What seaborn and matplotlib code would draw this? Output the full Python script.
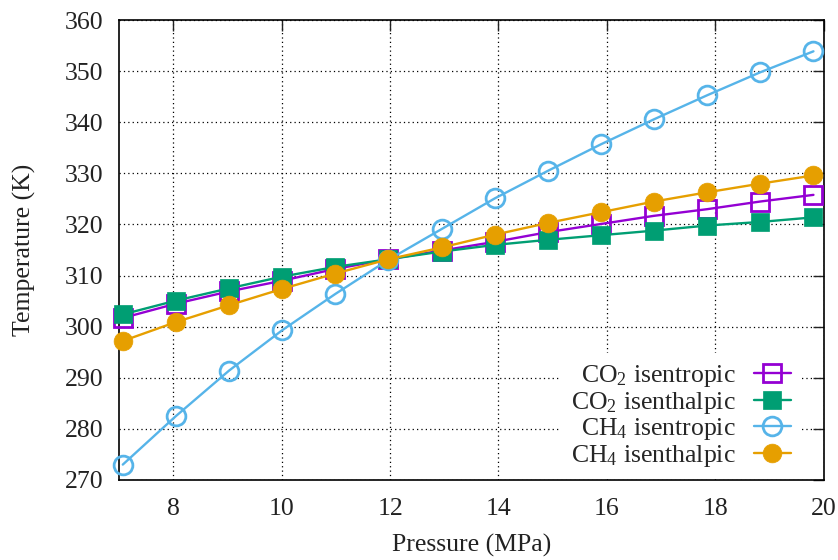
import numpy as np
import pandas as pd
import matplotlib
matplotlib.use("Agg")
import matplotlib.pyplot as plt
import seaborn as sns

# pressure (MPa) and temperatures (K)
pressure = [7.07, 8.05, 9.03, 10.01, 10.99, 11.97, 12.95, 13.93, 14.91, 15.89, 16.87, 17.85, 18.83, 19.81]
co2_isentropic = [301.7, 304.5, 306.9, 309.0, 311.3, 313.2, 314.9, 316.6, 318.5, 320.1, 321.7, 323.0, 324.5, 325.8]
co2_isenthalpic = [302.4, 305.1, 307.5, 309.8, 311.7, 313.2, 314.7, 316.0, 317.0, 317.9, 318.8, 319.8, 320.5, 321.4]
ch4_isentropic = [273.0, 282.5, 291.4, 299.3, 306.4, 313.1, 319.1, 325.1, 330.5, 335.7, 340.6, 345.3, 349.8, 353.9]
ch4_isenthalpic = [297.2, 300.9, 304.2, 307.4, 310.4, 313.2, 315.5, 318.0, 320.3, 322.4, 324.5, 326.3, 328.0, 329.6]

labels = [r"CO$_2$ isentropic", r"CO$_2$ isenthalpic", r"CH$_4$ isentropic", r"CH$_4$ isenthalpic"]
colors = ["#9400d3", "#009e73", "#56b4e9", "#e69f00"]
markers = ["s", "s", "o", "o"]
filled = [False, True, False, True]

sns.set_theme(style="white")
plt.rcParams['font.family'] = ['Liberation Serif', 'DejaVu Serif']
plt.rcParams['mathtext.fontset'] = 'custom'
plt.rcParams['mathtext.rm'] = 'Liberation Serif'
plt.rcParams['mathtext.it'] = 'Liberation Serif:italic'

FS = 18.5
TXT = "#222222"

fig = plt.figure(figsize=(8.38, 5.6), dpi=100)
ax = fig.add_axes([0.142, 0.143, 0.841, 0.821])

series = [co2_isentropic, co2_isenthalpic, ch4_isentropic, ch4_isenthalpic]
for vals, lab, col, mk, fill in zip(series, labels, colors, markers, filled):
    sns.lineplot(x=pressure, y=vals, ax=ax, label=lab, color=col, linewidth=1.7,
                 marker=mk, markersize=13 if mk == "s" else 13.5,
                 markerfacecolor=col if fill else "none",
                 markeredgecolor=col, markeredgewidth=2.0 if not fill else 0.5,
                 clip_on=False, zorder=3)

ax.set_xlim(7, 20)
ax.set_ylim(270, 360)
ax.set_xticks([8, 10, 12, 14, 16, 18, 20])
ax.set_yticks(np.arange(270, 361, 10))
ax.grid(True, linestyle=(0, (1, 2.5)), color="black", linewidth=0.9)
ax.tick_params(direction="in", length=8, width=1, top=True, right=True,
               labelsize=FS, colors=TXT, pad=11)
ax.tick_params(axis="x", pad=13)
for sp in ax.spines.values():
    sp.set_color("black")
    sp.set_linewidth(1.2)

ax.set_xlabel("Pressure (MPa)", fontsize=FS, color=TXT, labelpad=10)
ax.set_ylabel("Temperature (K)", fontsize=FS, color=TXT, labelpad=21)

leg = ax.legend(loc="lower right", bbox_to_anchor=(0.968, 0.002), borderaxespad=0,
                markerfirst=False, fontsize=FS, frameon=True, fancybox=False,
                edgecolor="none", facecolor="white", framealpha=1,
                handlelength=1.45, handletextpad=0.7, labelspacing=0.02, borderpad=0.4)
leg.set_zorder(5)

fig.savefig("out.png", dpi=100)
